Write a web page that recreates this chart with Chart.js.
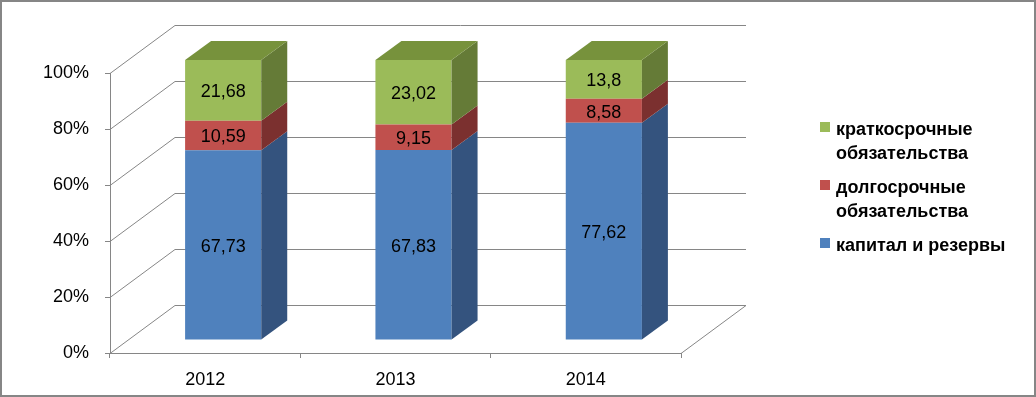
<!DOCTYPE html>
<html>
<head>
<meta charset="utf-8">
<script src="https://cdn.jsdelivr.net/npm/chart.js@4.4.1/dist/chart.umd.min.js"></script>
<style>
    html, body { margin: 0; padding: 0; background: #fff; }
    canvas { display: block; }
</style>
</head>
<body>
<canvas id="structChart" width="1036" height="397"></canvas>
<script>
// Данные диаграммы (структура пассивов, %)
const years = ["2012", "2013", "2014"];
const capitalReserves = [67.73, 67.83, 77.62];
const longTermLiab = [10.59, 9.15, 8.58];
const shortTermLiab = [21.68, 23.02, 13.8];
const yTicks = [0, 20, 40, 60, 80, 100];
const seriesNames = ["капитал и резервы", "долгосрочные обязательства", "краткосрочные обязательства"];

// Цвета граней: фронт, бок, верх
const faceColors = [
    { front: "#4F81BD", side: "#34537E", top: "#41699A" },
    { front: "#C0504D", side: "#7B302F", top: "#9A3E3B" },
    { front: "#9BBB59", side: "#657B37", top: "#77923C" }
];

const GRID = "#868686";
const WALL_DX = 65, WALL_DY = -48;   // глубина стенок
const BAR_OX = 18, BAR_OY = -13;     // сдвиг столбцов вглубь
const BAR_DX = 26, BAR_DY = -19;     // глубина столбцов

const fontTick = "18px 'Liberation Sans', Arial, sans-serif";

const pseudo3d = {
    id: "pseudo3d",
    beforeDatasetsDraw(chart) {
        const ctx = chart.ctx;
        const area = chart.chartArea;
        const y = chart.scales.y;
        ctx.save();
        ctx.strokeStyle = GRID;
        ctx.lineWidth = 1;
        ctx.beginPath();
        yTicks.forEach(function (v) {
            const py = Math.round(y.getPixelForValue(v)) + 0.5;
            ctx.moveTo(area.left, py);
            ctx.lineTo(area.left + WALL_DX, py + WALL_DY);
            ctx.lineTo(area.right + WALL_DX, py + WALL_DY);
        });
        const by = Math.round(y.getPixelForValue(0)) + 0.5;
        ctx.moveTo(area.right, by);
        ctx.lineTo(area.right + WALL_DX, by + WALL_DY);
        ctx.stroke();
        ctx.restore();

        // столбцы рисуются со сдвигом вглубь
        ctx.save();
        ctx.translate(BAR_OX, BAR_OY);
    },
    afterDatasetsDraw(chart) {
        const ctx = chart.ctx;
        const last = chart.data.datasets.length - 1;
        chart.data.datasets.forEach(function (ds, di) {
            const meta = chart.getDatasetMeta(di);
            const col = faceColors[di];
            meta.data.forEach(function (el) {
                const p = el.getProps(["x", "y", "base", "width"], true);
                const xl = p.x - p.width / 2, xr = p.x + p.width / 2;
                const yt = Math.min(p.y, p.base), yb = Math.max(p.y, p.base);
                ctx.fillStyle = col.side;
                ctx.beginPath();
                ctx.moveTo(xr, yt);
                ctx.lineTo(xr + BAR_DX, yt + BAR_DY);
                ctx.lineTo(xr + BAR_DX, yb + BAR_DY);
                ctx.lineTo(xr, yb);
                ctx.closePath();
                ctx.fill();
                if (di === last) {
                    ctx.fillStyle = col.top;
                    ctx.beginPath();
                    ctx.moveTo(xl, yt);
                    ctx.lineTo(xl + BAR_DX, yt + BAR_DY);
                    ctx.lineTo(xr + BAR_DX, yt + BAR_DY);
                    ctx.lineTo(xr, yt);
                    ctx.closePath();
                    ctx.fill();
                }
            });
        });

        // подписи значений
        ctx.fillStyle = "#000";
        ctx.font = fontTick;
        ctx.textAlign = "center";
        ctx.textBaseline = "middle";
        chart.data.datasets.forEach(function (ds, di) {
            const meta = chart.getDatasetMeta(di);
            meta.data.forEach(function (el, i) {
                const p = el.getProps(["x", "y", "base"], true);
                const txt = String(ds.data[i]).replace(".", ",");
                ctx.fillText(txt, p.x, (p.y + p.base) / 2 + 2);
            });
        });
        ctx.restore();
    },
    afterDraw(chart) {
        const ctx = chart.ctx;
        ctx.save();
        // рамка
        ctx.strokeStyle = GRID;
        ctx.lineWidth = 2;
        ctx.strokeRect(1, 1, chart.width - 2, chart.height - 2);

        // легенда (в обратном порядке, с переносом строк)
        ctx.font = "bold 18px 'Liberation Sans', Arial, sans-serif";
        ctx.textAlign = "left";
        ctx.textBaseline = "alphabetic";
        const maxW = 185;
        let base = 135;
        for (let di = chart.data.datasets.length - 1; di >= 0; di--) {
            const words = chart.data.datasets[di].label.split(" ");
            const lines = [];
            let cur = "";
            words.forEach(function (w) {
                const t = cur ? cur + " " + w : w;
                if (cur && ctx.measureText(t).width > maxW) {
                    lines.push(cur);
                    cur = w;
                } else {
                    cur = t;
                }
            });
            lines.push(cur);
            ctx.fillStyle = faceColors[di].front;
            ctx.fillRect(820, base - 13, 10, 10);
            ctx.fillStyle = "#000";
            lines.forEach(function (ln, li) {
                ctx.fillText(ln, 836, base + li * 24);
            });
            base += (lines.length - 1) * 24 + 34;
        }
        ctx.restore();
    }
};

const ctxStruct = document.getElementById("structChart").getContext("2d");
new Chart(ctxStruct, {
    type: "bar",
    data: {
        labels: years,
        datasets: [
            { label: seriesNames[0], data: capitalReserves, backgroundColor: faceColors[0].front },
            { label: seriesNames[1], data: longTermLiab, backgroundColor: faceColors[1].front },
            { label: seriesNames[2], data: shortTermLiab, backgroundColor: faceColors[2].front }
        ]
    },
    options: {
        responsive: false,
        animation: false,
        events: [],
        barPercentage: 0.4,
        categoryPercentage: 1,
        layout: { padding: { left: 0, top: 73, right: 355, bottom: 4 } },
        plugins: {
            legend: { display: false },
            tooltip: { enabled: false }
        },
        scales: {
            x: {
                stacked: true,
                afterFit: function (s) { s.height = 40; },
                border: { display: true, color: GRID, width: 1 },
                grid: { offset: true, drawOnChartArea: false, drawTicks: true, tickLength: 5, color: GRID },
                ticks: { color: "#000", font: { family: "'Liberation Sans', Arial, sans-serif", size: 18 }, padding: 11 }
            },
            y: {
                stacked: true,
                min: 0,
                max: 100,
                afterFit: function (s) { s.width = 110; },
                afterBuildTicks: function (s) { s.ticks = yTicks.map(function (v) { return { value: v }; }); },
                border: { display: true, color: GRID, width: 1 },
                grid: { drawOnChartArea: false, drawTicks: true, tickLength: 5, color: GRID },
                ticks: {
                    color: "#000",
                    font: { family: "'Liberation Sans', Arial, sans-serif", size: 18 },
                    padding: 16,
                    callback: function (v) { return v + "%"; }
                }
            }
        }
    },
    plugins: [pseudo3d]
});
</script>
</body>
</html>
